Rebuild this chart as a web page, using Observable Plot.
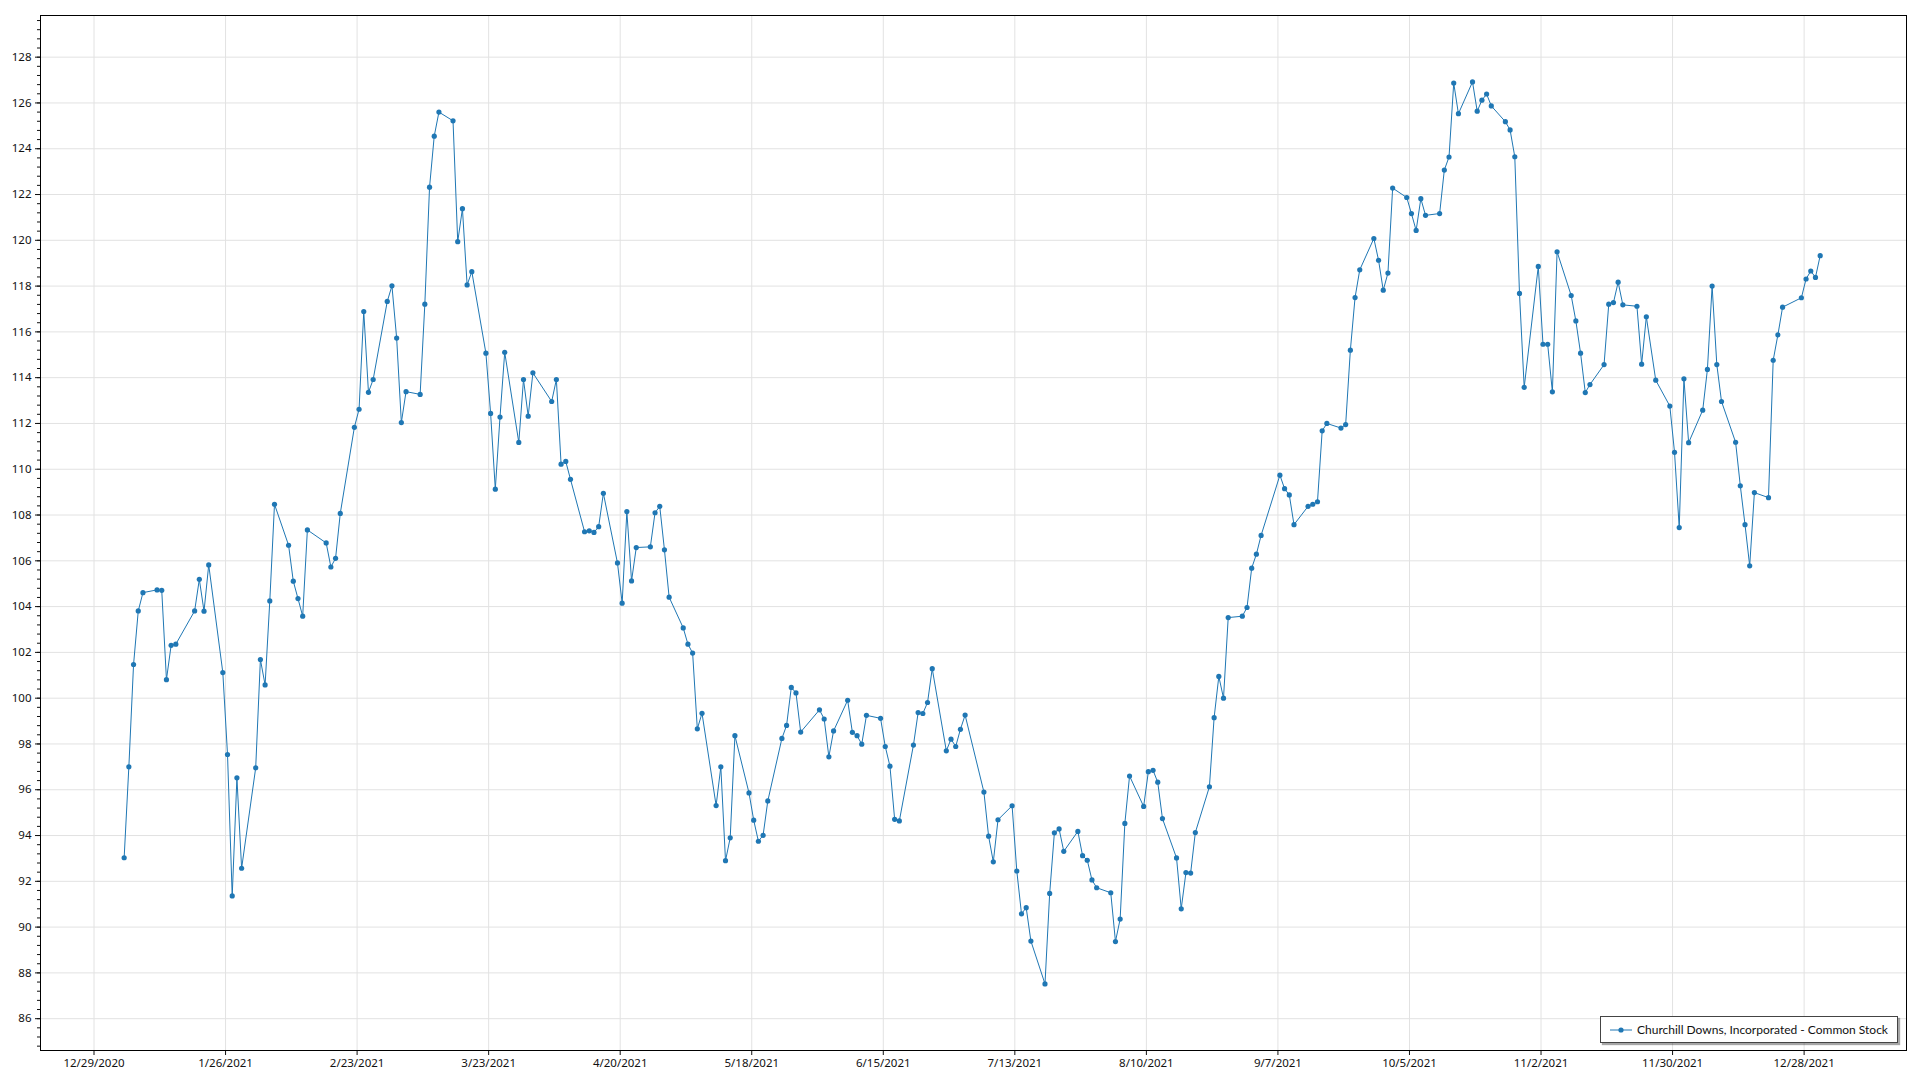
<!DOCTYPE html>
<html>
<head>
<meta charset="utf-8">
<script src="https://cdn.jsdelivr.net/npm/d3@7"></script>
<script src="https://cdn.jsdelivr.net/npm/@observablehq/plot@0.6"></script>
<style>
html, body { margin: 0; padding: 0; background: #fff; }
#wrap { position: relative; width: 1920px; height: 1080px; overflow: hidden; }
#legend {
  position: absolute; left: 1600px; top: 1016px; width: 296px; height: 25px;
  border: 1px solid #444; background: #fff; box-shadow: 2px 2px 1px rgba(0,0,0,0.35);
  font: 12px Lato, "Noto Sans", sans-serif; color: #111; white-space: nowrap;
  display: flex; align-items: center; box-sizing: content-box;
}
#legend svg { margin-left: 9px; margin-right: 5px; flex: none; }
</style>
</head>
<body>
<div id="wrap"></div>
<script>
// ---- data (Churchill Downs, Incorporated - Common Stock, 2021 daily close) ----
const seriesName = "Churchill Downs, Incorporated - Common Stock";
const dates = [
 "2021-01-04","2021-01-05","2021-01-06","2021-01-07","2021-01-08","2021-01-11","2021-01-12","2021-01-13","2021-01-14","2021-01-15",
 "2021-01-19","2021-01-20","2021-01-21","2021-01-22","2021-01-25","2021-01-26","2021-01-27","2021-01-28","2021-01-29",
 "2021-02-01","2021-02-02","2021-02-03","2021-02-04","2021-02-05","2021-02-08","2021-02-09","2021-02-10","2021-02-11","2021-02-12",
 "2021-02-16","2021-02-17","2021-02-18","2021-02-19","2021-02-22","2021-02-23","2021-02-24","2021-02-25","2021-02-26",
 "2021-03-01","2021-03-02","2021-03-03","2021-03-04","2021-03-05","2021-03-08","2021-03-09","2021-03-10","2021-03-11","2021-03-12",
 "2021-03-15","2021-03-16","2021-03-17","2021-03-18","2021-03-19","2021-03-22","2021-03-23","2021-03-24","2021-03-25","2021-03-26",
 "2021-03-29","2021-03-30","2021-03-31",
 "2021-04-01","2021-04-05","2021-04-06","2021-04-07","2021-04-08","2021-04-09","2021-04-12","2021-04-13","2021-04-14","2021-04-15",
 "2021-04-16","2021-04-19","2021-04-20","2021-04-21","2021-04-22","2021-04-23","2021-04-26","2021-04-27","2021-04-28","2021-04-29","2021-04-30",
 "2021-05-03","2021-05-04","2021-05-05","2021-05-06","2021-05-07","2021-05-10","2021-05-11","2021-05-12","2021-05-13","2021-05-14",
 "2021-05-17","2021-05-18","2021-05-19","2021-05-20","2021-05-21","2021-05-24","2021-05-25","2021-05-26","2021-05-27","2021-05-28",
 "2021-06-01","2021-06-02","2021-06-03","2021-06-04","2021-06-07","2021-06-08","2021-06-09","2021-06-10","2021-06-11",
 "2021-06-14","2021-06-15","2021-06-16","2021-06-17","2021-06-18","2021-06-21","2021-06-22","2021-06-23","2021-06-24","2021-06-25",
 "2021-06-28","2021-06-29","2021-06-30",
 "2021-07-01","2021-07-02","2021-07-06","2021-07-07","2021-07-08","2021-07-09","2021-07-12","2021-07-13","2021-07-14","2021-07-15","2021-07-16",
 "2021-07-19","2021-07-20","2021-07-21","2021-07-22","2021-07-23","2021-07-26","2021-07-27","2021-07-28","2021-07-29","2021-07-30",
 "2021-08-02","2021-08-03","2021-08-04","2021-08-05","2021-08-06","2021-08-09","2021-08-10","2021-08-11","2021-08-12","2021-08-13",
 "2021-08-16","2021-08-17","2021-08-18","2021-08-19","2021-08-20","2021-08-23","2021-08-24","2021-08-25","2021-08-26","2021-08-27",
 "2021-08-30","2021-08-31",
 "2021-09-01","2021-09-02","2021-09-03","2021-09-07","2021-09-08","2021-09-09","2021-09-10","2021-09-13","2021-09-14","2021-09-15",
 "2021-09-16","2021-09-17","2021-09-20","2021-09-21","2021-09-22","2021-09-23","2021-09-24","2021-09-27","2021-09-28","2021-09-29","2021-09-30",
 "2021-10-01","2021-10-04","2021-10-05","2021-10-06","2021-10-07","2021-10-08","2021-10-11","2021-10-12","2021-10-13","2021-10-14","2021-10-15",
 "2021-10-18","2021-10-19","2021-10-20","2021-10-21","2021-10-22","2021-10-25","2021-10-26","2021-10-27","2021-10-28","2021-10-29",
 "2021-11-01","2021-11-02","2021-11-03","2021-11-04","2021-11-05","2021-11-08","2021-11-09","2021-11-10","2021-11-11","2021-11-12",
 "2021-11-15","2021-11-16","2021-11-17","2021-11-18","2021-11-19","2021-11-22","2021-11-23","2021-11-24","2021-11-26","2021-11-29","2021-11-30",
 "2021-12-01","2021-12-02","2021-12-03","2021-12-06","2021-12-07","2021-12-08","2021-12-09","2021-12-10","2021-12-13","2021-12-14",
 "2021-12-15","2021-12-16","2021-12-17","2021-12-20","2021-12-21","2021-12-22","2021-12-23","2021-12-27","2021-12-28","2021-12-29",
 "2021-12-30","2021-12-31"
];
const closes = [
 93.03,97.00,101.47,103.81,104.61,104.73,104.71,100.81,102.31,102.36,
 103.81,105.19,103.80,105.82,101.12,97.54,91.36,96.52,92.57,
 96.96,101.69,100.58,104.25,108.47,106.68,105.11,104.35,103.58,107.35,
 106.78,105.73,106.11,108.07,111.83,112.62,116.89,113.36,113.92,
 117.33,118.01,115.73,112.04,113.39,113.27,117.21,122.32,124.55,125.60,
 125.22,119.94,121.38,118.05,118.63,115.07,112.44,109.13,112.28,115.11,
 111.17,113.92,112.32,
 114.21,112.96,113.92,110.22,110.34,109.56,107.27,107.31,107.24,107.49,
 108.95,105.91,104.15,108.15,105.12,106.58,106.61,108.10,108.38,106.48,104.41,
 103.07,102.36,101.97,98.66,99.34,95.31,97.00,92.90,93.90,98.36,
 95.86,94.67,93.75,94.01,95.51,98.24,98.81,100.47,100.23,98.52,
 99.49,99.09,97.44,98.57,99.91,98.51,98.36,97.99,99.25,
 99.12,97.89,97.03,94.71,94.64,97.95,99.37,99.33,99.81,101.29,
 97.70,98.21,97.89,
 98.64,99.26,95.90,93.97,92.85,94.69,95.30,92.45,90.58,90.85,89.39,
 87.52,91.47,94.12,94.29,93.31,94.18,93.12,92.92,92.06,91.72,
 91.50,89.37,90.35,94.53,96.60,95.27,96.79,96.85,96.33,94.74,
 93.02,90.80,92.38,92.36,94.13,96.13,99.15,100.95,100.00,103.52,
 103.58,103.96,
 105.68,106.29,107.11,109.74,109.15,108.88,107.58,108.38,108.47,108.58,
 111.68,112.00,111.80,111.95,115.20,117.50,118.71,120.08,119.13,117.82,118.57,
 122.28,121.87,121.17,120.43,121.82,121.09,121.17,123.07,123.64,126.87,125.53,
 126.92,125.64,126.12,126.39,125.87,125.18,124.82,123.65,117.68,113.58,
 118.86,115.46,115.46,113.38,119.50,117.59,116.48,115.07,113.35,113.70,
 114.57,117.21,117.28,118.17,117.18,117.12,114.59,116.66,113.89,112.76,110.74,
 107.45,113.95,111.16,112.58,114.36,118.00,114.57,112.96,111.18,109.28,
 107.58,105.78,108.98,108.76,114.76,115.87,117.08,117.49,118.31,118.66,
 118.38,119.33
];
// axis tick values
const xTickLabels = ["12/29/2020","1/26/2021","2/23/2021","3/23/2021","4/20/2021","5/18/2021","6/15/2021",
 "7/13/2021","8/10/2021","9/7/2021","10/5/2021","11/2/2021","11/30/2021","12/28/2021"];
const yTickValues = [86,88,90,92,94,96,98,100,102,104,106,108,110,112,114,116,118,120,122,124,126,128];

// ---- build ----
const parseMDY = d3.utcParse("%m/%d/%Y");
const xTicks = xTickLabels.map(parseMDY);
// quotes are stamped during the trading day (about 10:00), not at midnight
const data = dates.map((d, i) => ({date: d3.utcHour.offset(d3.utcParse("%Y-%m-%d")(d), 10), close: closes[i]}));
const yMinor = d3.range(212, 325).map(k => k * 0.4).filter(v => v > 84.6 && v < 129.8);

const font = '"Noto Sans", "DejaVu Sans", sans-serif';
const chart = Plot.plot({
  width: 1920,
  height: 1080,
  marginLeft: 40,
  marginRight: 14,
  marginTop: 15,
  marginBottom: 30,
  style: {fontFamily: font, fontSize: "11.5px", color: "#111", background: "#fff"},
  x: {type: "utc", domain: [new Date("2020-12-17T14:38:00Z"), new Date("2022-01-18T19:00:00Z")]},
  y: {domain: [84.61, 129.82]},
  marks: [
    Plot.gridX(xTicks, {stroke: "#e2e2e2", strokeOpacity: 1}),
    Plot.gridY(yTickValues, {stroke: "#e2e2e2", strokeOpacity: 1}),
    Plot.axisY(yMinor, {tickSize: 3, tickFormat: () => "", label: null}),
    Plot.axisY(yTickValues, {tickSize: 5, tickPadding: 4, label: null}),
    Plot.axisX(xTicks, {tickSize: 5, tickPadding: 3, tickFormat: d3.utcFormat("%-m/%-d/%Y"), label: null}),
    Plot.line(data, {x: "date", y: "close", stroke: "#1f77b4", strokeWidth: 1}),
    Plot.dot(data, {x: "date", y: "close", r: 2.6, fill: "#1f77b4", stroke: "none"}),
    Plot.frame({stroke: "#000", strokeWidth: 1})
  ]
});
const wrap = document.getElementById("wrap");
wrap.appendChild(chart);

// legend (inside plot area, bottom-right)
const legend = document.createElement("div");
legend.id = "legend";
legend.innerHTML = `<svg width="22" height="10"><line x1="0" x2="22" y1="5" y2="5" stroke="#1f77b4" stroke-width="1"/><circle cx="11" cy="5" r="2.6" fill="#1f77b4"/></svg><span>${seriesName}</span>`;
wrap.appendChild(legend);
</script>
</body>
</html>
